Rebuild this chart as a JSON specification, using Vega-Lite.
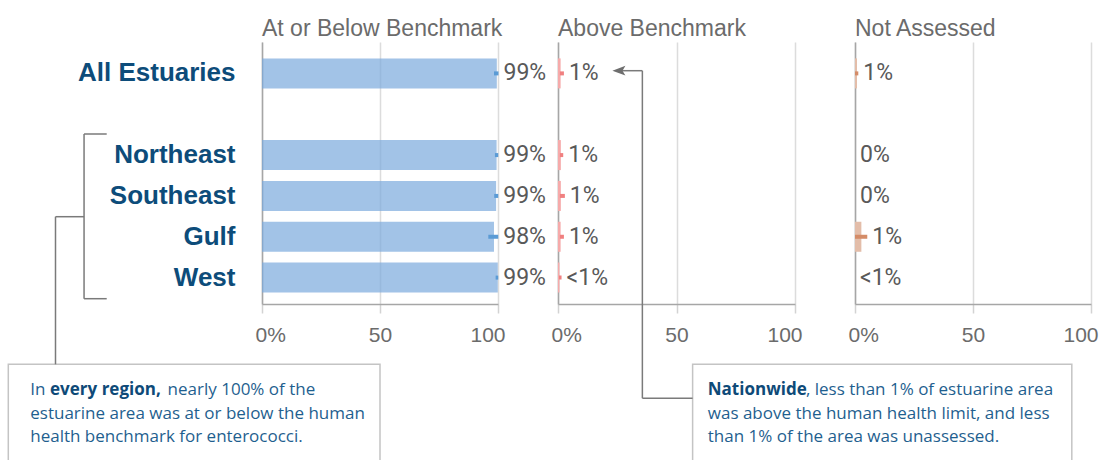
{
  "$schema": "https://vega.github.io/schema/vega-lite/v6.json",
  "autosize": "none",
  "padding": {"left": 262, "top": 42, "right": 838, "bottom": 418},
  "background": "white",
  "spacing": 60,
  "bounds": "flush",
  "datasets": {
    "main": [
      {"region": "All Estuaries", "cat": "A", "v": 99.5, "lo": 98.3, "hi": 100.2, "lab": "99%"},
      {"region": "Northeast", "cat": "A", "v": 99.4, "lo": 98.7, "hi": 100.1, "lab": "99%"},
      {"region": "Southeast", "cat": "A", "v": 99.2, "lo": 98.4, "hi": 100.1, "lab": "99%"},
      {"region": "Gulf", "cat": "A", "v": 98.3, "lo": 95.9, "hi": 100.1, "lab": "98%"},
      {"region": "West", "cat": "A", "v": 99.9, "lo": 99.0, "hi": 100.1, "lab": "99%"},
      {"region": "All Estuaries", "cat": "B", "v": 1.1, "lo": 0.8, "hi": 2.5, "lab": "1%"},
      {"region": "Northeast", "cat": "B", "v": 1.2, "lo": 0.8, "hi": 2.2, "lab": "1%"},
      {"region": "Southeast", "cat": "B", "v": 1.2, "lo": 0.8, "hi": 2.9, "lab": "1%"},
      {"region": "Gulf", "cat": "B", "v": 1.1, "lo": 0.8, "hi": 2.5, "lab": "1%"},
      {"region": "West", "cat": "B", "v": 0.6, "lo": 0.4, "hi": 1.5, "lab": "<1%"},
      {"region": "All Estuaries", "cat": "C", "v": 0.85, "lo": 0.0, "hi": 1.4, "lab": "1%"},
      {"region": "Northeast", "cat": "C", "v": 0, "lo": 0, "hi": 0, "lab": "0%"},
      {"region": "Southeast", "cat": "C", "v": 0, "lo": 0, "hi": 0, "lab": "0%"},
      {"region": "Gulf", "cat": "C", "v": 2.7, "lo": 0.0, "hi": 5.2, "lab": "1%"},
      {"region": "West", "cat": "C", "v": 0, "lo": 0, "hi": 0, "lab": "<1%"}
    ],
    "lines1": [
      {"x": -75.4, "x2": -75.4, "y": 92, "y2": 256.7},
      {"x": -75.4, "x2": -65.8, "y": 92, "y2": 92},
      {"x": -75.4, "x2": -65.8, "y": 256.7, "y2": 256.7},
      {"x": -87.5, "x2": -75.4, "y": 174.7, "y2": 174.7},
      {"x": -87.5, "x2": -87.5, "y": 174.7, "y2": 322.3}
    ],
    "box1": [{"x": -107.5, "x2": 50.0, "y": 322.3, "y2": 440}],
    "notes1": [
      {"x": -98.2, "y": 353, "t": "In", "bold": false},
      {"x": -89.8, "y": 353, "t": "every region,", "bold": true},
      {"x": -40.0, "y": 353, "t": "nearly 100% of the", "bold": false},
      {"x": -98.2, "y": 376.5, "t": "estuarine area was at or below the human", "bold": false},
      {"x": -98.2, "y": 400, "t": "health benchmark for enterococci.", "bold": false}
    ],
    "lines2": [
      {"x": 35.6, "x2": 56.8, "y": 356.3, "y2": 356.3},
      {"x": 35.6, "x2": 35.6, "y": 28.7, "y2": 356.3},
      {"x": 27.0, "x2": 35.6, "y": 28.7, "y2": 28.7}
    ],
    "arrow2": [{"x": 25.7, "y": 28.7}],
    "box2": [{"x": 56.8, "x2": 216.8, "y": 322.3, "y2": 440}],
    "notes2": [
      {"x": 63.2, "y": 353, "t": "Nationwide", "bold": true},
      {"x": 104.6, "y": 353, "t": ", less than 1% of estuarine area", "bold": false},
      {"x": 63.2, "y": 376.5, "t": "was above the human health limit, and less", "bold": false},
      {"x": 63.2, "y": 400, "t": "than 1% of the area was unassessed.", "bold": false}
    ]
  },
  "hconcat": [
    {
      "width": 236,
      "height": 262,
      "title": {"text": "At or Below Benchmark"},
      "resolve": {"scale": {"x": "independent", "y": "independent"}},
      "layer": [
        {
          "data": {"name": "main"},
          "transform": [{"filter": "datum.cat == 'A'"}],
          "encoding": {
            "y": {"field": "region", "type": "nominal",
              "scale": {"domain": ["All Estuaries", "gap", "Northeast", "Southeast", "Gulf", "West"], "paddingInner": 0.265, "paddingOuter": 0.34, "align": 0.59},
              "axis": {"title": null, "labels": true, "labelExpr": "datum.value == 'gap' ? '' : datum.value",
                "labelFont": "Liberation Sans", "labelFontWeight": "bold", "labelFontSize": 26,
                "labelColor": "#0d4c7a", "labelPadding": 27}}
          },
          "layer": [
            {
              "mark": {"type": "bar", "color": "#7aa9dd", "opacity": 0.7},
              "encoding": {
                "x": {"field": "v", "type": "quantitative", "scale": {"domain": [0, 100], "nice": false},
                  "axis": {"values": [0, 50, 100], "title": null, "labelExpr": "datum.value == 0 ? '0%' : datum.label"}}
              }
            },
            {
              "mark": {"type": "bar", "color": "#5b9bd5", "height": 4},
              "encoding": {
                "x": {"field": "lo", "type": "quantitative", "scale": {"domain": [0, 100], "nice": false},
                  "axis": {"values": [0, 50, 100], "title": null, "labelExpr": "datum.value == 0 ? '0%' : datum.label"}},
                "x2": {"field": "hi"}
              }
            },
            {
              "mark": {"type": "text", "align": "left", "baseline": "middle", "dx": 5, "font": "Roboto", "fontSize": 23, "color": "#595959"},
              "encoding": {
                "x": {"field": "hi", "type": "quantitative", "scale": {"domain": [0, 100], "nice": false},
                  "axis": {"values": [0, 50, 100], "title": null, "labelExpr": "datum.value == 0 ? '0%' : datum.label"}},
                "text": {"field": "lab"}
              }
            }
          ]
        },
        {
          "layer": [
            {
              "data": {"name": "box1"},
              "mark": {"type": "rect", "fill": "white", "stroke": "#c4c4c4", "strokeWidth": 1.5},
              "encoding": {
                "x": {"field": "x", "type": "quantitative", "scale": {"domain": [0, 100], "nice": false}, "axis": null},
                "x2": {"field": "x2"},
                "y": {"field": "y", "type": "quantitative", "scale": {"domain": [0, 262], "reverse": true, "nice": false, "zero": false}, "axis": null},
                "y2": {"field": "y2"}
              }
            },
            {
              "data": {"name": "lines1"},
              "mark": {"type": "rule", "color": "#7a7a7a", "strokeWidth": 1.5},
              "encoding": {
                "x": {"field": "x", "type": "quantitative", "scale": {"domain": [0, 100], "nice": false}, "axis": null},
                "x2": {"field": "x2"},
                "y": {"field": "y", "type": "quantitative", "scale": {"domain": [0, 262], "reverse": true, "nice": false, "zero": false}, "axis": null},
                "y2": {"field": "y2"}
              }
            },
            {
              "data": {"name": "notes1"},
              "transform": [{"filter": "!datum.bold"}],
              "mark": {"type": "text", "align": "left", "baseline": "alphabetic", "font": "Open Sans", "fontSize": 17, "color": "#1f5f8f"},
              "encoding": {
                "x": {"field": "x", "type": "quantitative", "scale": {"domain": [0, 100], "nice": false}, "axis": null},
                "y": {"field": "y", "type": "quantitative", "scale": {"domain": [0, 262], "reverse": true, "nice": false, "zero": false}, "axis": null},
                "text": {"field": "t"}
              }
            },
            {
              "data": {"name": "notes1"},
              "transform": [{"filter": "datum.bold"}],
              "mark": {"type": "text", "align": "left", "baseline": "alphabetic", "font": "Open Sans", "fontSize": 17, "fontWeight": "bold", "color": "#0e4a78"},
              "encoding": {
                "x": {"field": "x", "type": "quantitative", "scale": {"domain": [0, 100], "nice": false}, "axis": null},
                "y": {"field": "y", "type": "quantitative", "scale": {"domain": [0, 262], "reverse": true, "nice": false, "zero": false}, "axis": null},
                "text": {"field": "t"}
              }
            }
          ]
        }
      ]
    },
    {
      "width": 237,
      "height": 262,
      "title": {"text": "Above Benchmark"},
      "resolve": {"scale": {"x": "independent", "y": "independent"}},
      "layer": [
        {
          "data": {"name": "main"},
          "transform": [{"filter": "datum.cat == 'B'"}],
          "encoding": {
            "y": {"field": "region", "type": "nominal",
              "scale": {"domain": ["All Estuaries", "gap", "Northeast", "Southeast", "Gulf", "West"], "paddingInner": 0.265, "paddingOuter": 0.34, "align": 0.59},
              "axis": {"title": null, "labels": false}}
          },
          "layer": [
            {
              "mark": {"type": "bar", "color": "#f6aaaa"},
              "encoding": {
                "x": {"field": "v", "type": "quantitative", "scale": {"domain": [0, 100], "nice": false},
                  "axis": {"values": [0, 50, 100], "title": null, "labelExpr": "datum.value == 0 ? '0%' : datum.label"}}
              }
            },
            {
              "mark": {"type": "bar", "color": "#f08080", "height": 4},
              "encoding": {
                "x": {"field": "lo", "type": "quantitative", "scale": {"domain": [0, 100], "nice": false},
                  "axis": {"values": [0, 50, 100], "title": null, "labelExpr": "datum.value == 0 ? '0%' : datum.label"}},
                "x2": {"field": "hi"}
              }
            },
            {
              "mark": {"type": "text", "align": "left", "baseline": "middle", "dx": 5, "font": "Roboto", "fontSize": 23, "color": "#595959"},
              "encoding": {
                "x": {"field": "hi", "type": "quantitative", "scale": {"domain": [0, 100], "nice": false},
                  "axis": {"values": [0, 50, 100], "title": null, "labelExpr": "datum.value == 0 ? '0%' : datum.label"}},
                "text": {"field": "lab"}
              }
            }
          ]
        },
        {
          "layer": [
            {
              "data": {"name": "box2"},
              "mark": {"type": "rect", "fill": "white", "stroke": "#c4c4c4", "strokeWidth": 1.5},
              "encoding": {
                "x": {"field": "x", "type": "quantitative", "scale": {"domain": [0, 100], "nice": false}, "axis": null},
                "x2": {"field": "x2"},
                "y": {"field": "y", "type": "quantitative", "scale": {"domain": [0, 262], "reverse": true, "nice": false, "zero": false}, "axis": null},
                "y2": {"field": "y2"}
              }
            },
            {
              "data": {"name": "lines2"},
              "mark": {"type": "rule", "color": "#7a7a7a", "strokeWidth": 1.5},
              "encoding": {
                "x": {"field": "x", "type": "quantitative", "scale": {"domain": [0, 100], "nice": false}, "axis": null},
                "x2": {"field": "x2"},
                "y": {"field": "y", "type": "quantitative", "scale": {"domain": [0, 262], "reverse": true, "nice": false, "zero": false}, "axis": null},
                "y2": {"field": "y2"}
              }
            },
            {
              "data": {"name": "arrow2"},
              "mark": {"type": "point", "shape": "M-1,0L1,-0.75L0.55,0L1,0.75Z", "filled": true, "color": "#6e6e6e", "opacity": 1, "size": 170},
              "encoding": {
                "x": {"field": "x", "type": "quantitative", "scale": {"domain": [0, 100], "nice": false}, "axis": null},
                "y": {"field": "y", "type": "quantitative", "scale": {"domain": [0, 262], "reverse": true, "nice": false, "zero": false}, "axis": null}
              }
            },
            {
              "data": {"name": "notes2"},
              "transform": [{"filter": "!datum.bold"}],
              "mark": {"type": "text", "align": "left", "baseline": "alphabetic", "font": "Open Sans", "fontSize": 17, "color": "#1f5f8f"},
              "encoding": {
                "x": {"field": "x", "type": "quantitative", "scale": {"domain": [0, 100], "nice": false}, "axis": null},
                "y": {"field": "y", "type": "quantitative", "scale": {"domain": [0, 262], "reverse": true, "nice": false, "zero": false}, "axis": null},
                "text": {"field": "t"}
              }
            },
            {
              "data": {"name": "notes2"},
              "transform": [{"filter": "datum.bold"}],
              "mark": {"type": "text", "align": "left", "baseline": "alphabetic", "font": "Open Sans", "fontSize": 17, "fontWeight": "bold", "color": "#0e4a78"},
              "encoding": {
                "x": {"field": "x", "type": "quantitative", "scale": {"domain": [0, 100], "nice": false}, "axis": null},
                "y": {"field": "y", "type": "quantitative", "scale": {"domain": [0, 262], "reverse": true, "nice": false, "zero": false}, "axis": null},
                "text": {"field": "t"}
              }
            }
          ]
        }
      ]
    },
    {
      "width": 236,
      "height": 262,
      "title": {"text": "Not Assessed"},
      "data": {"name": "main"},
      "transform": [{"filter": "datum.cat == 'C'"}],
      "encoding": {
        "y": {"field": "region", "type": "nominal",
          "scale": {"domain": ["All Estuaries", "gap", "Northeast", "Southeast", "Gulf", "West"], "paddingInner": 0.265, "paddingOuter": 0.34, "align": 0.59},
          "axis": {"title": null, "labels": false}}
      },
      "layer": [
        {
          "mark": {"type": "bar", "color": "#e3bda9"},
          "encoding": {
            "x": {"field": "v", "type": "quantitative", "scale": {"domain": [0, 100], "nice": false},
              "axis": {"values": [0, 50, 100], "title": null, "labelExpr": "datum.value == 0 ? '0%' : datum.label"}}
          }
        },
        {
          "mark": {"type": "bar", "color": "#d48c68", "height": 4},
          "encoding": {
            "x": {"field": "lo", "type": "quantitative", "scale": {"domain": [0, 100], "nice": false},
              "axis": {"values": [0, 50, 100], "title": null, "labelExpr": "datum.value == 0 ? '0%' : datum.label"}},
            "x2": {"field": "hi"}
          }
        },
        {
          "mark": {"type": "text", "align": "left", "baseline": "middle", "dx": 5, "font": "Roboto", "fontSize": 23, "color": "#595959"},
          "encoding": {
            "x": {"field": "hi", "type": "quantitative", "scale": {"domain": [0, 100], "nice": false},
              "axis": {"values": [0, 50, 100], "title": null, "labelExpr": "datum.value == 0 ? '0%' : datum.label"}},
            "text": {"field": "lab"}
          }
        }
      ]
    }
  ],
  "config": {
    "view": {"stroke": null},
    "title": {"anchor": "start", "frame": "group", "font": "Liberation Sans", "fontSize": 23, "fontWeight": "normal", "color": "#6b6b6b", "baseline": "alphabetic", "offset": 1},
    "axisY": {"ticks": false, "grid": false, "domain": true, "domainColor": "#a6a6a6", "domainWidth": 1.5},
    "axisX": {"grid": true, "gridColor": "#dcdcdc", "gridWidth": 1.5, "domainColor": "#a6a6a6", "domainWidth": 1.5, "tickColor": "#d3d3d3", "tickSize": 9, "tickWidth": 1.5,
      "labelFont": "Liberation Sans", "labelFontSize": 21, "labelColor": "#6b6b6b", "labelPadding": 28, "labelBaseline": "alphabetic",
      "labelFlush": true, "labelFlushOffset": 7}
  }
}
